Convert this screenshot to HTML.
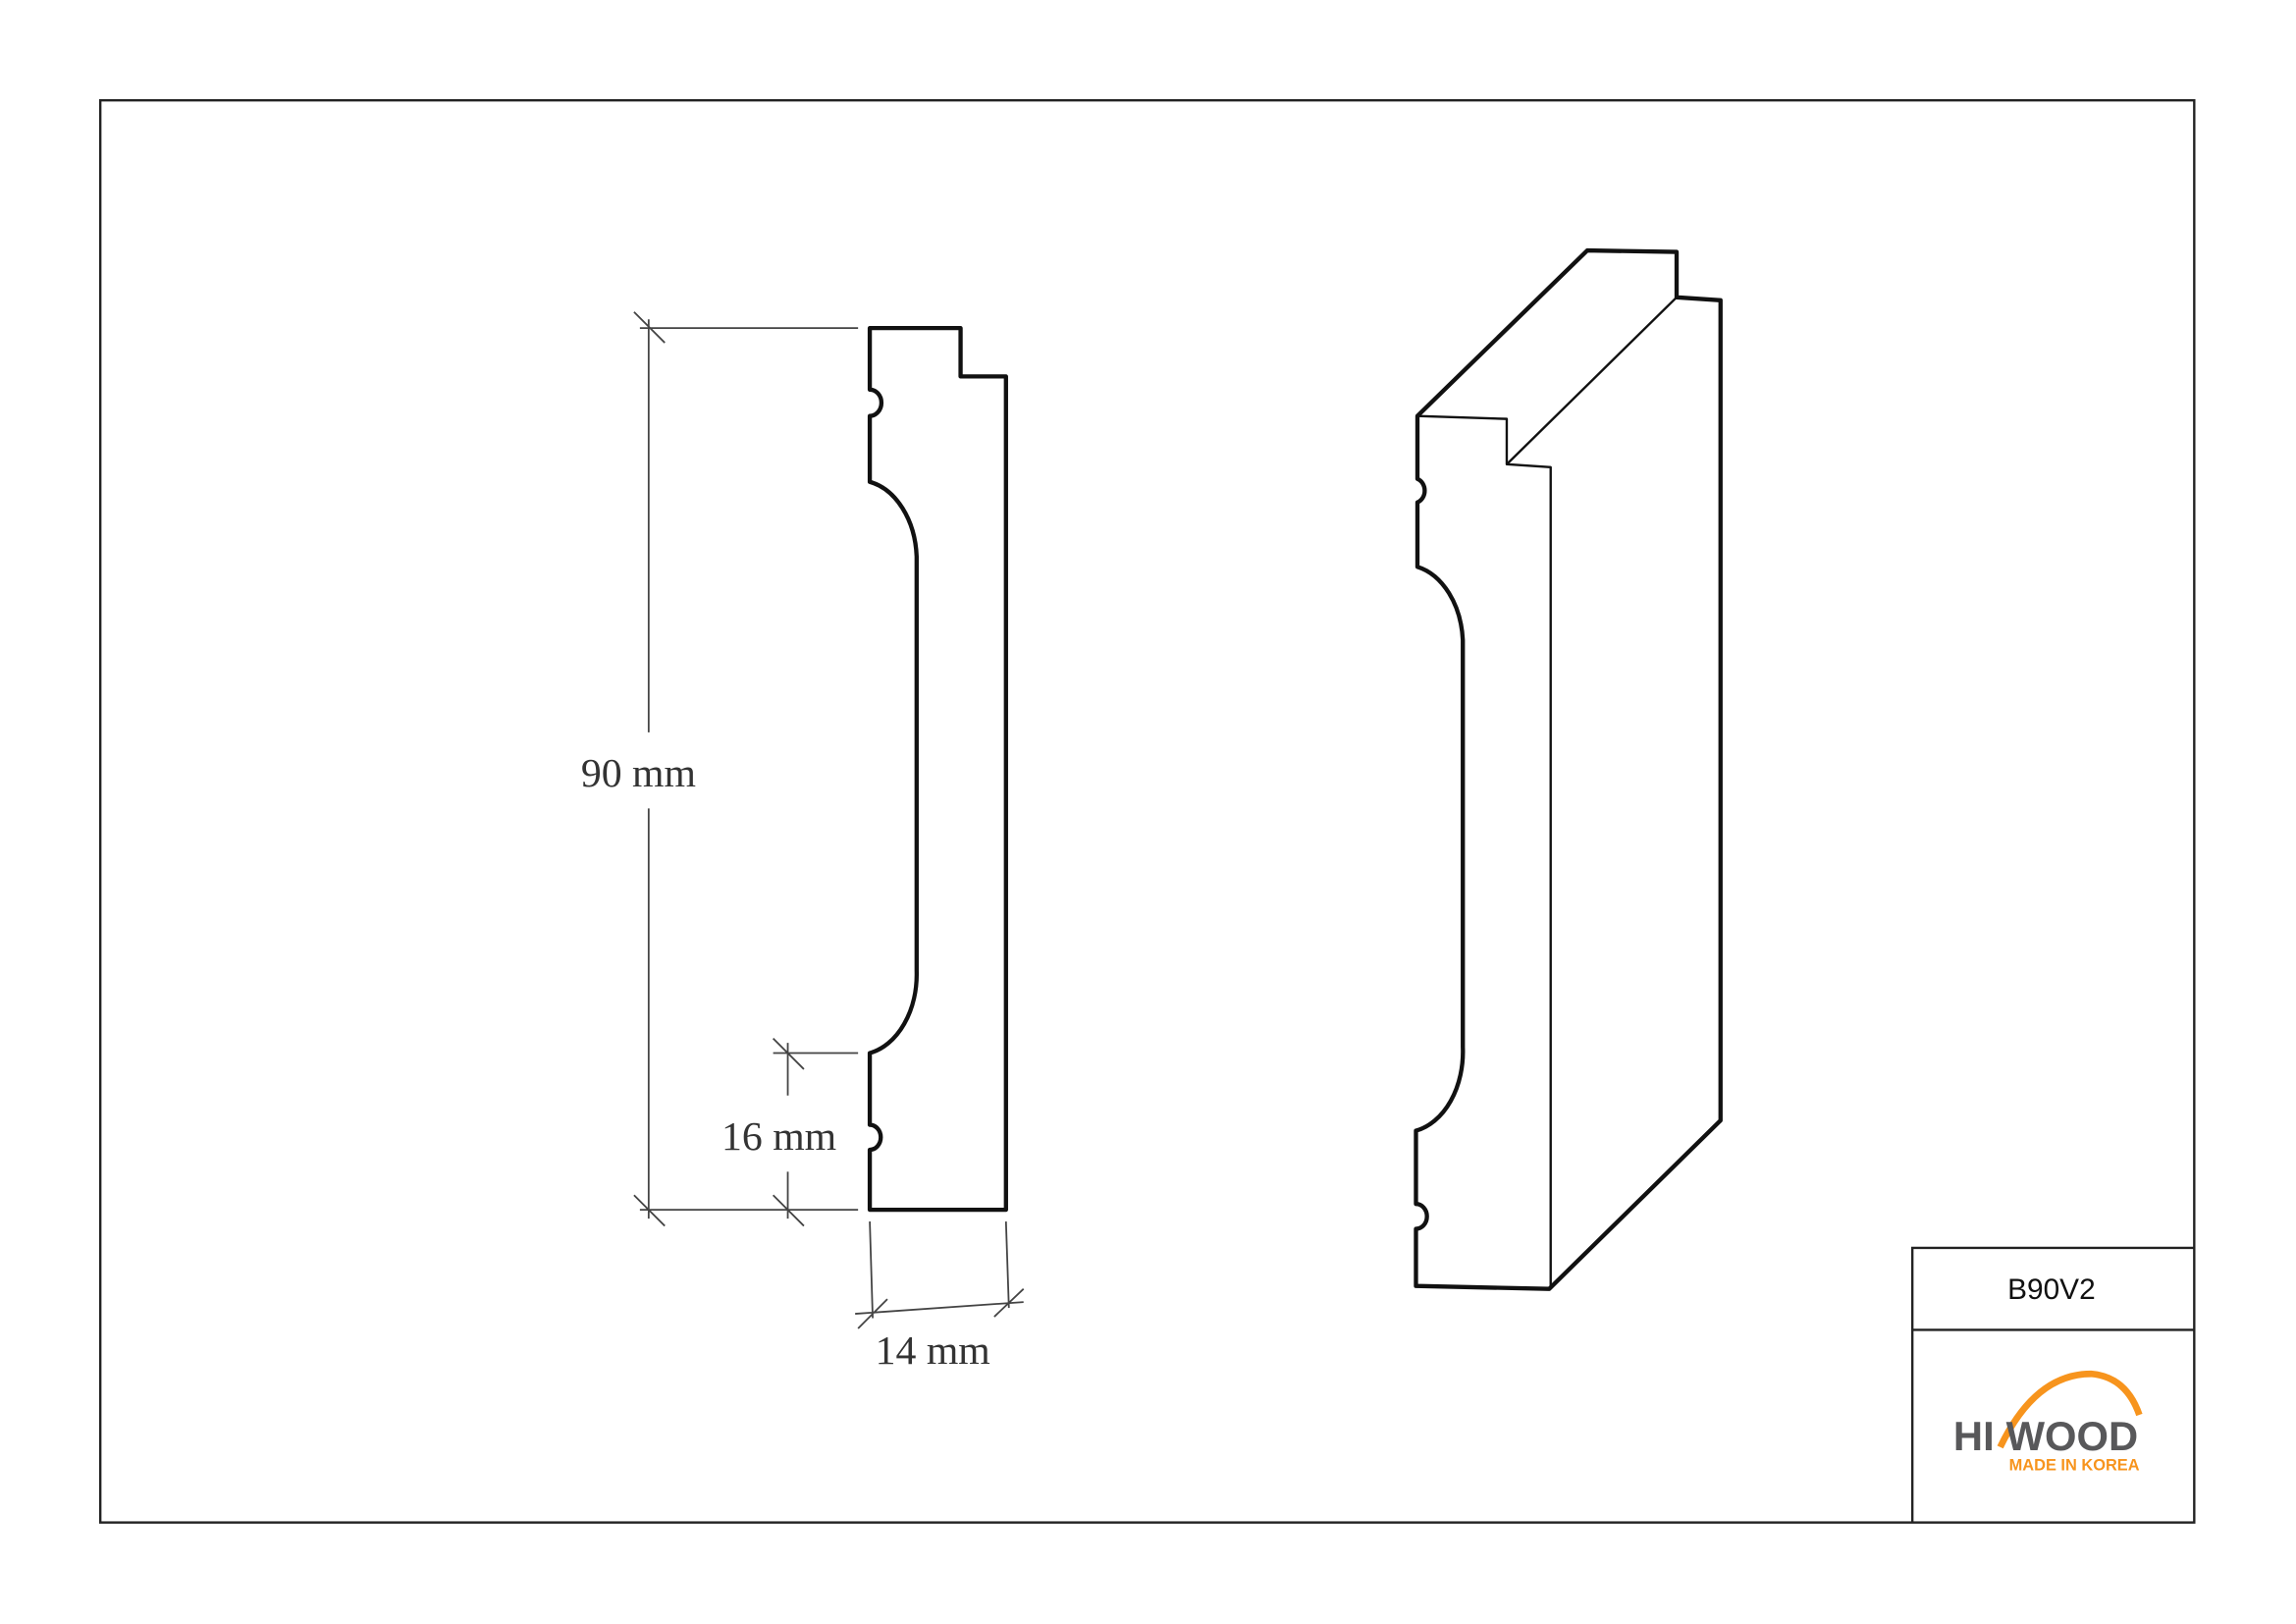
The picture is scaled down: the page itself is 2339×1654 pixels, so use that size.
<!DOCTYPE html>
<html><head><meta charset="utf-8"><style>html,body{margin:0;padding:0;background:#fff}svg{display:block}</style></head>
<body>
<svg width="2339" height="1654" viewBox="0 0 1568 1108.8" preserveAspectRatio="none" xmlns="http://www.w3.org/2000/svg">
<rect x="0" y="0" width="1568" height="1109" fill="#fff"/>
<rect x="68.5" y="68.5" width="1430" height="971" fill="none" stroke="#222" stroke-width="1.6"/>
<path d="M1306,1039 V852 H1498 M1306,908 H1498" fill="none" stroke="#222" stroke-width="1.6"/>
<text x="1401" y="887" font-family="Liberation Sans, sans-serif" font-size="20" text-anchor="middle" fill="#111">B90V2</text>
<path d="M1366,988 Q1390,938 1428,938 Q1452,940 1461,966" fill="none" stroke="#f7941d" stroke-width="4.5"/>
<text x="1334" y="990" font-family="Liberation Sans, sans-serif" font-weight="bold" font-size="28" fill="#58585a">HI</text>
<text x="1370" y="990" font-family="Liberation Sans, sans-serif" font-weight="bold" font-size="28" fill="#58585a">WOOD</text>
<text x="1372" y="1004" font-family="Liberation Sans, sans-serif" font-weight="bold" font-size="11" fill="#f7941d">MADE IN KOREA</text>
<path d="M594,224 H656 V257 H687 V826 H594 V785 A7.5,8.5 0 0 0 594,768 V719 A40,55 0 0 0 626,663 V380 A40,55 0 0 0 594,329 V284 A7.5,8.5 0 0 0 594,266 Z" fill="none" stroke="#111" stroke-width="2.9" stroke-linejoin="round"/>
<g stroke="#444" stroke-width="1.2" fill="none">
<path d="M437,224 H586 M437,826 H586 M443,218 V500 M443,552 V832 M433,213 L454,234 M433,816 L454,837"/>
<path d="M528,719 H586 M538,712 V748 M538,800 V832 M528,709 L549,730 M528,816 L549,837"/>
<path d="M594,834 L596,900 M687,834 L689,893 M584,897 L699,889 M586,907 L606,887 M679,899 L699,880"/>
</g>
<g font-family="Liberation Serif, serif" font-size="28" fill="#333" text-anchor="middle">
<text x="436" y="537">90 mm</text>
<text x="532" y="785">16 mm</text>
<text x="637" y="931">14 mm</text>
</g>
<path d="M968,284 L1084,171 L1145,172 V203 L1175,205 V765 L1058,880 L967,878 V839 A7.5,8.5 0 0 0 967,822 V772 A40,55 0 0 0 999,715 V437 A40,55 0 0 0 968,387 V343 A7.5,8.5 0 0 0 968,327 Z" fill="none" stroke="#111" stroke-width="2.9" stroke-linejoin="round"/>
<path d="M968,284 L1029,286 V317 L1059,319 V880 M1029,317 L1145,203" fill="none" stroke="#111" stroke-width="1.6" stroke-linejoin="round"/>
</svg>
</body></html>
